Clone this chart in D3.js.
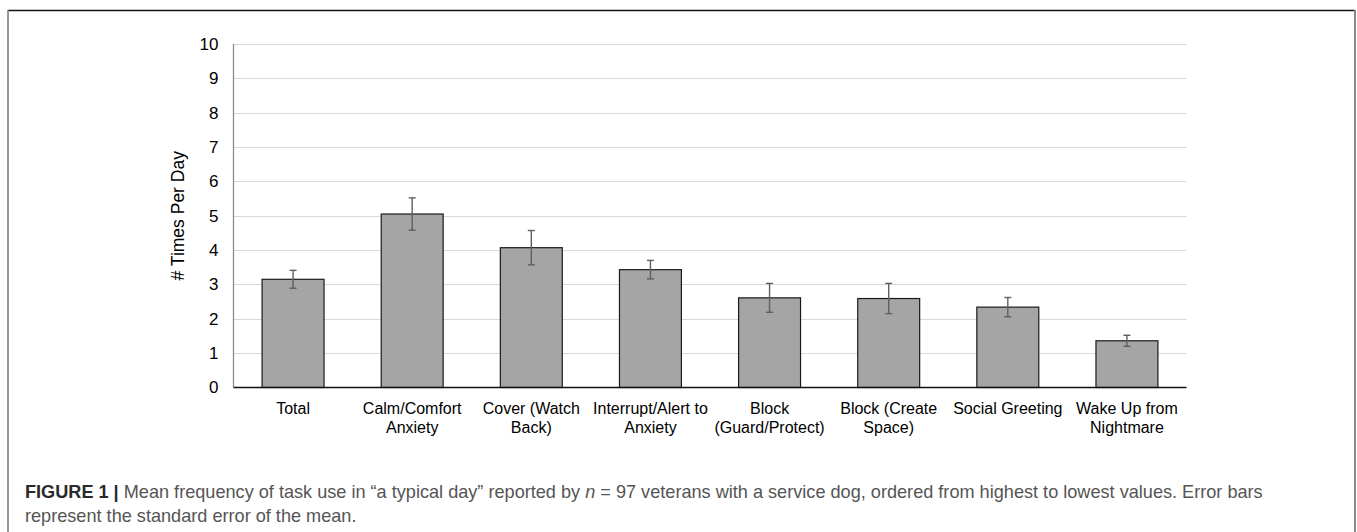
<!DOCTYPE html>
<html>
<head>
<meta charset="utf-8">
<script src="https://cdn.jsdelivr.net/npm/d3@7"></script>
<style>
  html, body { margin: 0; padding: 0; background: #fff; }
  svg { display: block; }
</style>
</head>
<body>
<svg id="chart" width="1357" height="532"></svg>
<script>
// Tasks, mean times per day and standard error of the mean
const categories = [
  ["Total"],
  ["Calm/Comfort", "Anxiety"],
  ["Cover (Watch", "Back)"],
  ["Interrupt/Alert to", "Anxiety"],
  ["Block", "(Guard/Protect)"],
  ["Block (Create", "Space)"],
  ["Social Greeting"],
  ["Wake Up from", "Nightmare"]
];
const means = [3.15, 5.05, 4.07, 3.43, 2.61, 2.59, 2.34, 1.36];
const sems  = [0.26, 0.47, 0.50, 0.27, 0.42, 0.44, 0.28, 0.16];
const yTicks = [0, 1, 2, 3, 4, 5, 6, 7, 8, 9, 10];
const yLabel = "# Times Per Day";

const svg = d3.select("#chart");
const W = 1357, H = 532;

// Figure frame
svg.append("line").attr("x1", 8).attr("x2", W - 2).attr("y1", 10.5).attr("y2", 10.5)
  .attr("stroke", "#111").attr("stroke-width", 1.5);
svg.append("line").attr("x1", 8).attr("x2", 8).attr("y1", 10).attr("y2", H)
  .attr("stroke", "#777").attr("stroke-width", 1.5);
svg.append("line").attr("x1", W - 2).attr("x2", W - 2).attr("y1", 10).attr("y2", H)
  .attr("stroke", "#888").attr("stroke-width", 2);

// Plot area
const plot = { left: 233.5, right: 1186.5, top: 44, bottom: 387.5 };

const keys = categories.map((c, i) => i);
const x = d3.scaleBand().domain(keys).range([plot.left, plot.right]).paddingInner(0.48).paddingOuter(0.24);
const y = d3.scaleLinear().domain([0, 10]).range([plot.bottom, plot.top]);

const font = "'Liberation Sans', Arial, Helvetica, sans-serif";

// Horizontal gridlines
svg.append("g").selectAll("line").data(yTicks.filter(t => t > 0)).join("line")
  .attr("x1", plot.left).attr("x2", plot.right)
  .attr("y1", d => Math.round(y(d)) + 0.5).attr("y2", d => Math.round(y(d)) + 0.5)
  .attr("stroke", "#d9d9d9").attr("stroke-width", 1);

// Y axis tick labels
const yAxis = d3.axisLeft(y).tickValues(yTicks).tickSize(0).tickPadding(15).tickFormat(d3.format("d"));
const gy = svg.append("g").attr("transform", `translate(${plot.left},0)`).call(yAxis);
gy.select(".domain").remove();
gy.selectAll("text").attr("font-family", font).attr("font-size", 17).attr("fill", "#000");

// Left axis line
svg.append("line").attr("x1", plot.left).attr("x2", plot.left)
  .attr("y1", plot.top).attr("y2", plot.bottom)
  .attr("stroke", "#8c8c8c").attr("stroke-width", 1.3);

// Bars
svg.append("g").selectAll("rect").data(keys).join("rect")
  .attr("x", i => x(i))
  .attr("y", i => y(means[i]))
  .attr("width", x.bandwidth())
  .attr("height", i => y(0) - y(means[i]))
  .attr("fill", "#a5a5a5")
  .attr("stroke", "#1a1a1a").attr("stroke-width", 1.2);

// Baseline
svg.append("line").attr("x1", plot.left).attr("x2", plot.right)
  .attr("y1", plot.bottom).attr("y2", plot.bottom)
  .attr("stroke", "#111").attr("stroke-width", 1.3);

// Error bars (mean ± SEM)
const eb = svg.append("g").attr("stroke", "#5f5f5f").attr("stroke-width", 1.4);
keys.forEach(i => {
  const cx = x(i) + x.bandwidth() / 2;
  const hi = y(means[i] + sems[i]), lo = y(means[i] - sems[i]);
  eb.append("line").attr("x1", cx).attr("x2", cx).attr("y1", hi).attr("y2", lo);
  eb.append("line").attr("x1", cx - 3.5).attr("x2", cx + 3.5).attr("y1", hi).attr("y2", hi);
  eb.append("line").attr("x1", cx - 3.5).attr("x2", cx + 3.5).attr("y1", lo).attr("y2", lo);
});

// Category labels
const xAxis = d3.axisBottom(x).tickSize(0).tickFormat(() => "");
const gx = svg.append("g").attr("transform", `translate(0,${plot.bottom})`).call(xAxis);
gx.select(".domain").remove();
gx.selectAll(".tick text").remove();
gx.selectAll(".tick").append("text")
  .attr("font-family", font).attr("font-size", 16).attr("fill", "#000")
  .attr("text-anchor", "middle")
  .each(function(i) {
    const t = d3.select(this);
    categories[i].forEach((line, k) => {
      t.append("tspan").attr("x", 0).attr("y", 26 + k * 19).text(line);
    });
  });

// Y axis title
svg.append("text")
  .attr("transform", `translate(184,${(plot.top + plot.bottom) / 2}) rotate(-90)`)
  .attr("text-anchor", "middle")
  .attr("font-family", font).attr("font-size", 17.5).attr("fill", "#000")
  .text(yLabel);

// Caption, sized so its first line spans the figure width
const capFont = "'Liberation Sans', Arial, Helvetica, sans-serif";
const capLeft = 25, capRight = 1264;
const cap1 = svg.append("text").attr("x", capLeft).attr("y", 498)
  .attr("font-family", capFont).attr("font-size", 16).attr("fill", "#555");
cap1.append("tspan").attr("font-weight", "bold").attr("fill", "#2a2a2a").text("FIGURE 1 |");
cap1.append("tspan").text(" Mean frequency of task use in \u201ca typical day\u201d reported by ");
cap1.append("tspan").attr("font-style", "italic").text("n");
cap1.append("tspan").text(" = 97 veterans with a service dog, ordered from highest to lowest values. Error bars");
const cap2 = svg.append("text").attr("x", capLeft).attr("y", 522)
  .attr("font-family", capFont).attr("font-size", 16).attr("fill", "#555")
  .text("represent the standard error of the mean.");
const capSize = 16 * (capRight - capLeft) / cap1.node().getComputedTextLength();
cap1.attr("font-size", capSize);
cap2.attr("font-size", capSize);
</script>
</body>
</html>
